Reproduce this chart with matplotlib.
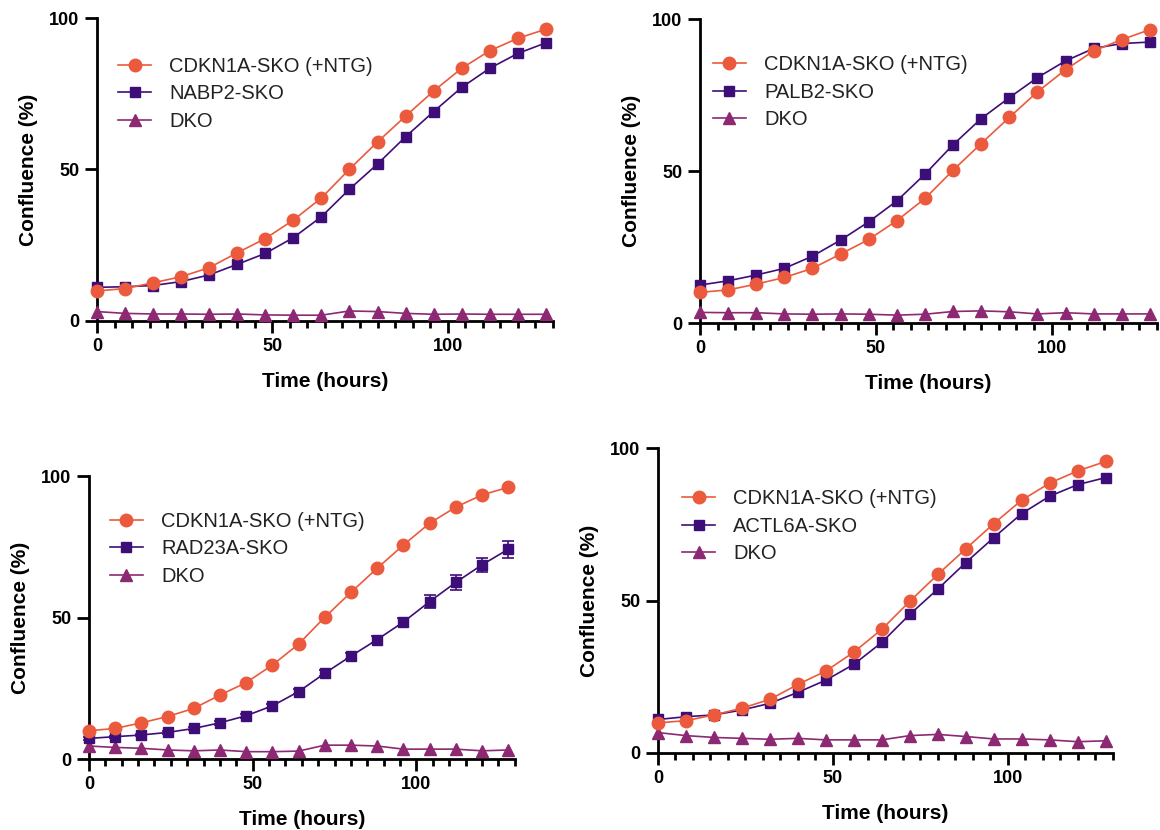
import matplotlib
matplotlib.use("Agg")
import matplotlib.pyplot as plt
from matplotlib.ticker import MultipleLocator

plt.rcParams['font.family'] = ['Liberation Sans', 'DejaVu Sans']

# time points (hours)
hours = [0, 8, 16, 24, 32, 40, 48, 56, 64, 72, 80, 88, 96, 104, 112, 120, 128]

# panel A: NABP2
ctrl_a = [9.9, 10.7, 12.6, 14.6, 17.6, 22.5, 27.2, 33.3, 40.6, 50.1, 59.1, 67.6, 75.9, 83.4, 89.2, 93.3, 96.3]
sko_a = [11.1, 11.3, 11.7, 13.0, 15.2, 18.7, 22.3, 27.5, 34.4, 43.5, 51.8, 60.8, 69.1, 77.1, 83.4, 88.3, 91.8]
dko_a = [3.1, 2.5, 2.3, 2.3, 2.2, 2.3, 2.0, 1.9, 1.9, 3.3, 3.1, 2.5, 2.2, 2.3, 2.2, 2.2, 2.2]

# panel B: PALB2
ctrl_b = [10.1, 10.9, 12.8, 15.0, 18.0, 22.7, 27.5, 33.7, 41.0, 50.3, 59.1, 67.7, 76.1, 83.4, 89.6, 93.3, 96.6]
sko_b = [12.5, 13.9, 15.8, 18.0, 22.0, 27.3, 33.3, 40.2, 49.0, 58.7, 67.3, 74.2, 80.8, 86.3, 90.4, 92.0, 92.5]
dko_b = [3.5, 3.4, 3.4, 3.0, 2.9, 3.0, 2.9, 2.6, 2.9, 3.8, 4.0, 3.7, 3.0, 3.4, 3.0, 3.0, 3.0]

# panel C: RAD23A
ctrl_c = [10.0, 10.8, 12.8, 15.0, 17.9, 22.6, 27.0, 33.2, 40.6, 50.1, 58.9, 67.4, 75.6, 83.3, 89.0, 93.3, 96.0]
sko_c = [7.3, 7.9, 8.5, 9.4, 10.8, 12.8, 15.3, 18.8, 23.8, 30.3, 36.4, 42.2, 48.4, 55.6, 62.4, 68.6, 74.1]
sko_c_err = [0.4, 0.4, 0.5, 0.5, 0.6, 0.6, 0.7, 0.8, 0.9, 1.0, 1.1, 1.2, 1.5, 2.2, 2.5, 2.6, 2.9]
dko_c = [4.6, 4.1, 3.8, 3.2, 2.9, 3.2, 2.6, 2.6, 2.8, 4.9, 4.9, 4.6, 3.5, 3.5, 3.5, 2.9, 3.2]

# panel D: ACTL6A
ctrl_d = [9.9, 10.6, 12.5, 14.7, 17.6, 22.5, 26.9, 33.1, 40.6, 49.8, 58.6, 67.0, 75.3, 83.0, 88.6, 92.6, 95.7]
sko_d = [11.0, 11.9, 12.5, 14.1, 16.3, 19.9, 23.9, 29.1, 36.3, 45.5, 53.8, 62.5, 70.7, 78.6, 84.3, 88.1, 90.4]
dko_d = [6.7, 5.7, 5.1, 4.8, 4.5, 4.8, 4.3, 4.3, 4.3, 5.7, 6.1, 5.4, 4.6, 4.6, 4.3, 3.7, 4.0]

ctrl_label = 'CDKN1A-SKO (+NTG)'
sko_labels = ['NABP2-SKO', 'PALB2-SKO', 'RAD23A-SKO', 'ACTL6A-SKO']

orange = '#EB5A3C'
purple = '#3E0E78'
magenta = '#8D2873'

fig = plt.figure(figsize=(11.6, 8.3), dpi=100)

positions = [
    [0.0836, 0.6133, 0.393, 0.365],
    [0.6034, 0.6108, 0.394, 0.366],
    [0.0767, 0.0855, 0.367, 0.341],
    [0.5672, 0.0928, 0.392, 0.367],
]
panels = [
    (ctrl_a, sko_a, None, dko_a),
    (ctrl_b, sko_b, None, dko_b),
    (ctrl_c, sko_c, sko_c_err, dko_c),
    (ctrl_d, sko_d, None, dko_d),
]
legend_xy = [(0.046, 0.872), (0.028, 0.882), (0.049, 0.873), (0.053, 0.866)]

for i, (pos, (ctrl, sko, err, dko)) in enumerate(zip(positions, panels)):
    ax = fig.add_axes(pos)
    l_dko, = ax.plot(hours, dko, color=magenta, marker='^', ms=8, lw=1.2,
                     clip_on=False, zorder=3)
    if err is not None:
        ax.errorbar(hours, sko, yerr=err, color=purple, marker='s', ms=7.5,
                    lw=1.2, capsize=4, capthick=1.2, elinewidth=1.2,
                    clip_on=False, zorder=4)
    else:
        ax.plot(hours, sko, color=purple, marker='s', ms=7.5, lw=1.2,
                clip_on=False, zorder=4)
    l_ctrl, = ax.plot(hours, ctrl, color=orange, marker='o', ms=9, lw=1.2,
                      clip_on=False, zorder=5)

    ax.set_xlim(0, 130)
    ax.set_ylim(0, 100)
    ax.set_xticks([0, 50, 100])
    ax.set_yticks([0, 50, 100])
    ax.xaxis.set_minor_locator(MultipleLocator(5))
    for s in ['top', 'right']:
        ax.spines[s].set_visible(False)
    for s in ['left', 'bottom']:
        ax.spines[s].set_linewidth(2.0)
    ax.tick_params(which='major', length=8.5, width=2, labelsize=13, pad=4)
    ax.tick_params(which='minor', length=5, width=2)
    for lab in ax.get_xticklabels() + ax.get_yticklabels():
        lab.set_fontweight('bold')
    ax.set_xlabel('Time (hours)', fontsize=15, fontweight='bold', labelpad=12)
    ax.set_ylabel('Confluence (%)', fontsize=15, fontweight='bold', labelpad=8)

    # legend handles: plain lines so the errorbar caps don't show up
    h_sko = plt.Line2D([], [], color=purple, marker='s', ms=7.5, lw=1.2)
    ax.legend([l_ctrl, h_sko, l_dko], [ctrl_label, sko_labels[i], 'DKO'],
              loc='upper left', bbox_to_anchor=legend_xy[i],
              frameon=False, fontsize=14.5, handlelength=1.65,
              handletextpad=0.9, labelspacing=0.42, borderaxespad=0,
              borderpad=0, labelcolor='#222222')

fig.savefig('out.png', dpi=100)
